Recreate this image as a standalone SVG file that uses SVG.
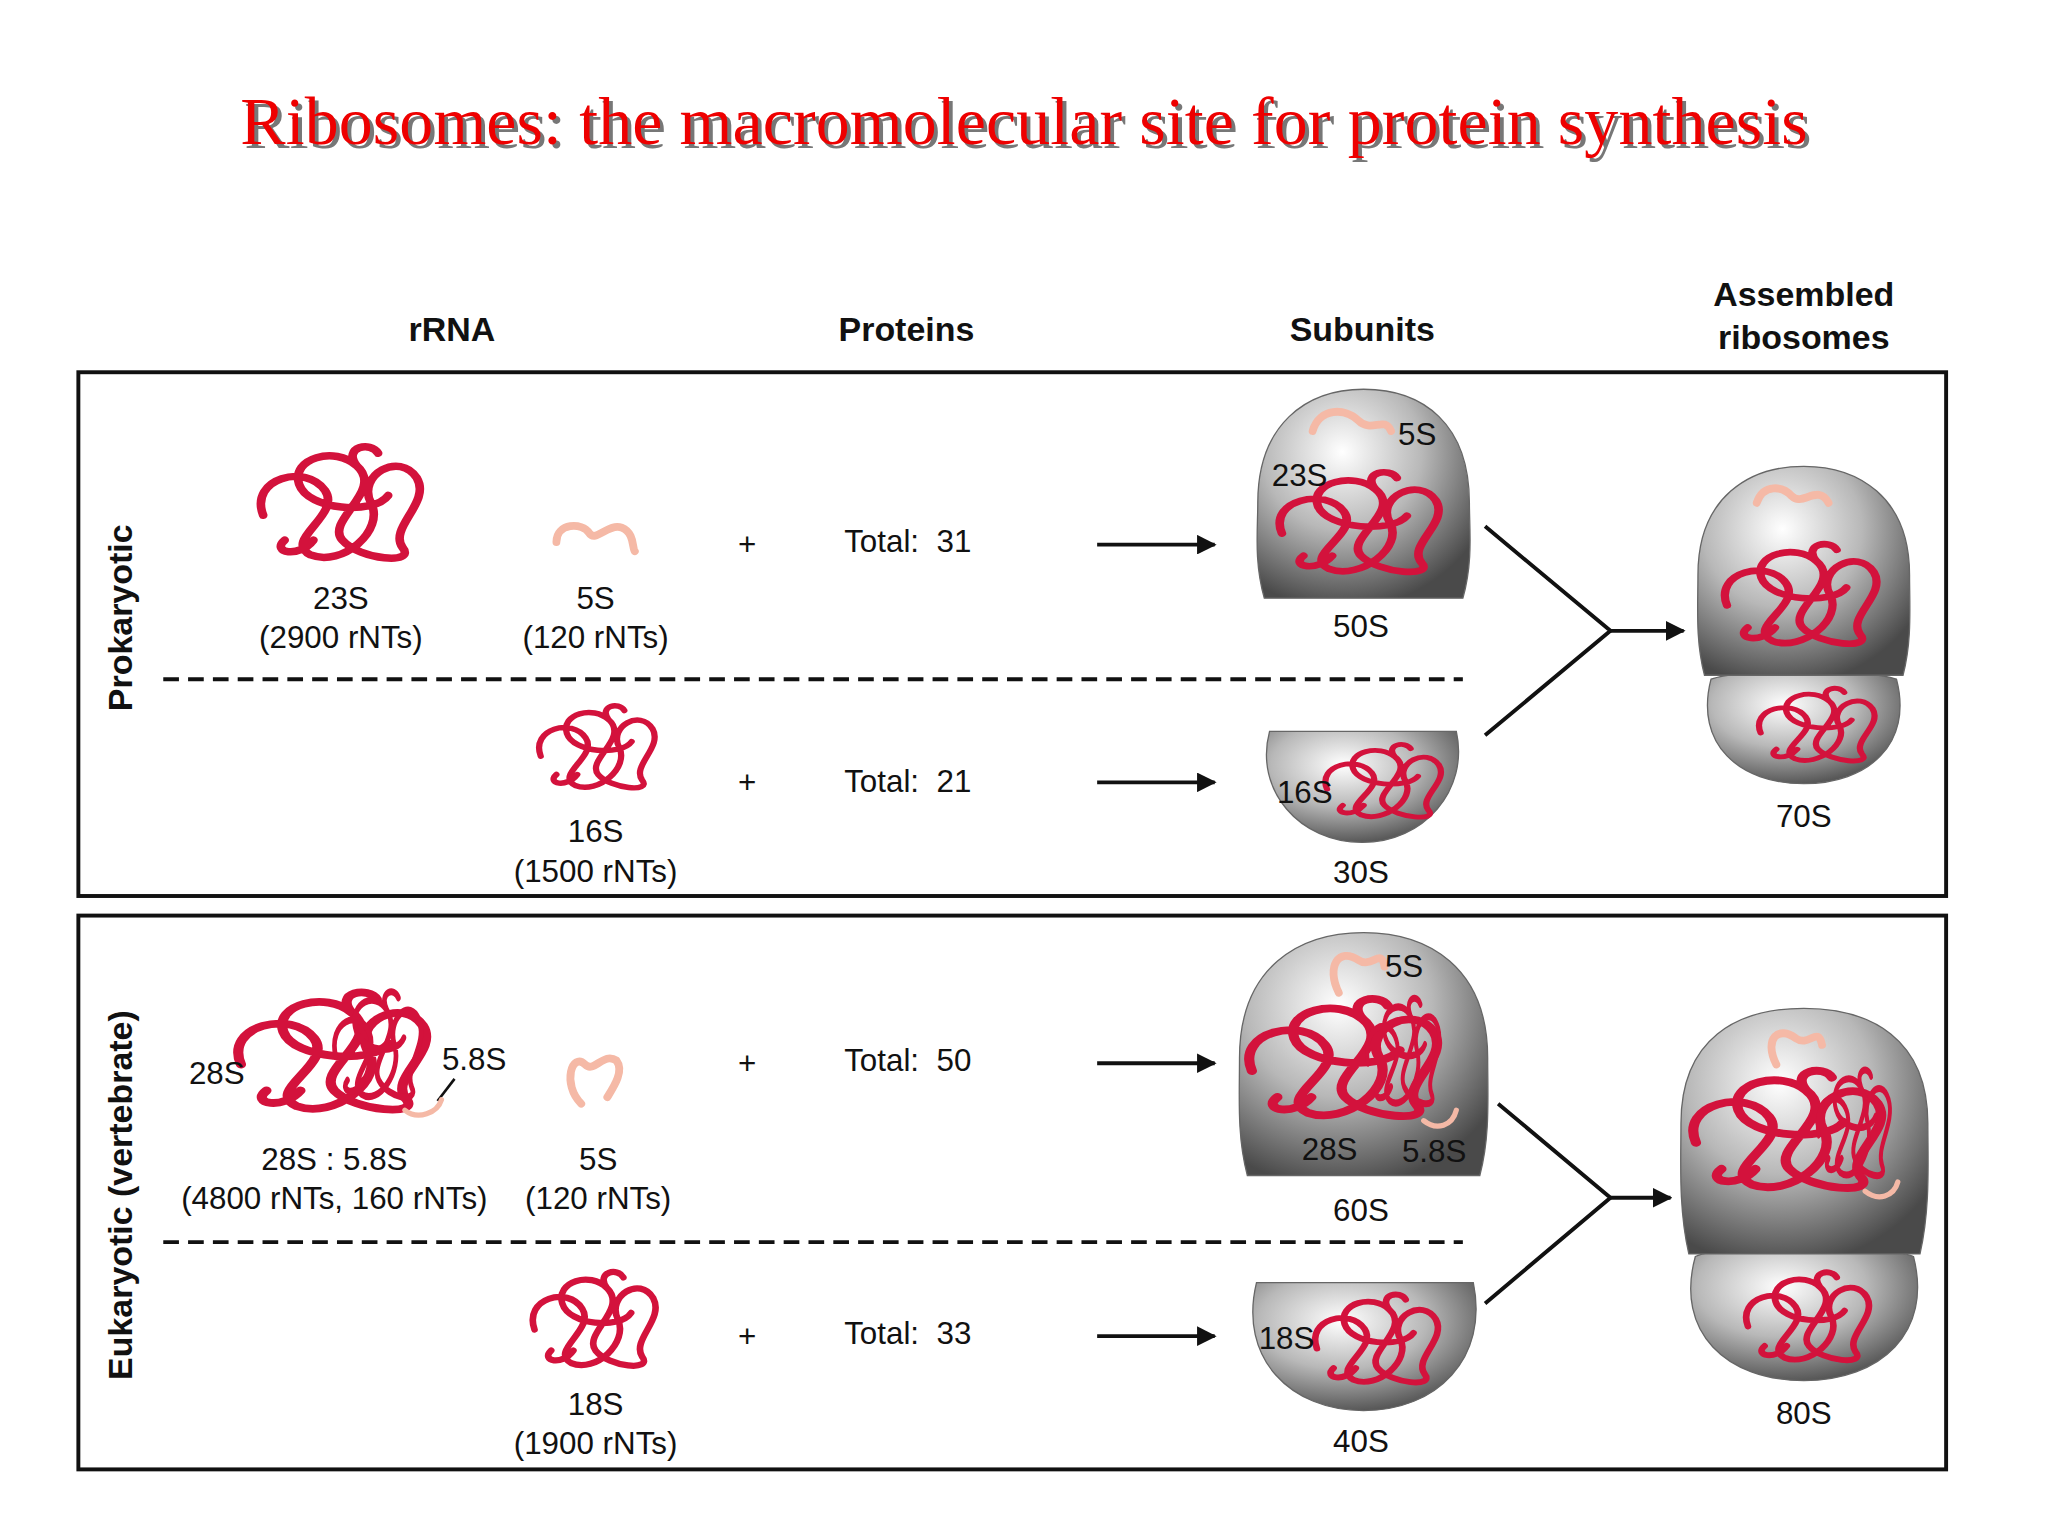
<svg xmlns="http://www.w3.org/2000/svg" width="2048" height="1536" viewBox="0 0 2048 1536">
<style>
.t{font-family:"Liberation Sans",Arial,sans-serif;font-size:24px;fill:#111;text-anchor:middle}
.h{font-family:"Liberation Sans",Arial,sans-serif;font-size:26px;font-weight:bold;fill:#111;text-anchor:middle}
.box{fill:none;stroke:#111;stroke-width:3}
.dash{stroke:#111;stroke-width:3;stroke-dasharray:12 7}
.ln{stroke:#111;stroke-width:3;fill:none}
.r{fill:none;stroke:#d3123c;stroke-width:6;stroke-linecap:round;stroke-linejoin:round}
.p{fill:none;stroke:#f5b9a6;stroke-width:6;stroke-linecap:round}
.dome{fill:url(#g);stroke:#666;stroke-width:1}
</style>
<defs>
<radialGradient id="g" cx="0.4" cy="0.3" r="0.75">
<stop offset="0" stop-color="#ffffff"/><stop offset="0.5" stop-color="#b8b8b8"/><stop offset="1" stop-color="#4a4a4a"/>
</radialGradient>
<marker id="a" viewBox="0 0 10 10" refX="9" refY="5" markerWidth="5" markerHeight="5" orient="auto"><path d="M0,0 L10,5 L0,10 Z" fill="#111"/></marker>
<path id="tg" d="M-55,10 C-65,-20 -25,-32 -12,-10 C0,10 -42,30 -22,42 C0,52 30,22 20,0 C10,-22 40,-42 52,-20 C62,0 32,20 42,36 C52,50 12,46 0,30 C-12,14 30,-10 10,-30 C-5,-46 -36,-36 -30,-15 C-24,6 22,10 32,-6 M-40,30 C-50,40 -30,45 -20,30 M10,-30 C0,-45 20,-50 25,-40"/>
<path id="sq" d="M-30,5 C-30,-10 -10,-10 -5,-2 C0,6 10,-10 20,-6 C30,-2 28,10 30,12"/>
</defs>
<rect width="2048" height="1536" fill="#fff"/>
<g transform="scale(1.30612)">
<g id="title" font-family="Liberation Serif,'Times New Roman',serif" font-size="52" text-anchor="middle" textLength="1200">
<text x="787" y="113" fill="#777" textLength="1200">Ribosomes: the macromolecular site for protein synthesis</text>
<text x="784" y="110" fill="#ee0000" textLength="1200">Ribosomes: the macromolecular site for protein synthesis</text>
</g>
<g id="headers">
<text class="h" x="346" y="261">rRNA</text>
<text class="h" x="694" y="261">Proteins</text>
<text class="h" x="1043" y="261">Subunits</text>
<text class="h" x="1381" y="234">Assembled</text>
<text class="h" x="1381" y="267">ribosomes</text>
</g>
<rect class="box" x="60" y="285" width="1430" height="401"/>
<rect class="box" x="60" y="701" width="1430" height="424"/>
<text class="h" transform="translate(101,473) rotate(-90)">Prokaryotic</text>
<text class="h" transform="translate(101,915) rotate(-90)">Eukaryotic (vertebrate)</text>
<g id="connectors">
<line class="dash" x1="125" y1="520" x2="1120" y2="520"/>
<line class="dash" x1="125" y1="951" x2="1120" y2="951"/>
<line class="ln" x1="840" y1="417" x2="930" y2="417" marker-end="url(#a)"/>
<line class="ln" x1="840" y1="599" x2="930" y2="599" marker-end="url(#a)"/>
<line class="ln" x1="840" y1="814" x2="930" y2="814" marker-end="url(#a)"/>
<line class="ln" x1="840" y1="1023" x2="930" y2="1023" marker-end="url(#a)"/>
<path class="ln" d="M1137,403 L1233,483 L1137,563"/>
<line class="ln" x1="1233" y1="483" x2="1289" y2="483" marker-end="url(#a)"/>
<path class="ln" d="M1147,845 L1233,917 L1137,998"/>
<line class="ln" x1="1233" y1="917" x2="1279" y2="917" marker-end="url(#a)"/>
<line class="ln" x1="335" y1="843" x2="348" y2="826" style="stroke-width:2"/>
</g>
<g id="rrna-23S"><use href="#tg" class="r" transform="translate(262,385) scale(1.1,0.95)"/>
<text class="t" x="261" y="466">23S</text><text class="t" x="261" y="496">(2900 rNTs)</text></g>
<g id="rrna-5S"><use href="#sq" class="p" transform="translate(456,410)"/>
<text class="t" x="456" y="466">5S</text><text class="t" x="456" y="496">(120 rNTs)</text></g>
<g id="rrna-16S"><use href="#tg" class="r" transform="translate(458,572) scale(0.8,0.7)"/>
<text class="t" x="456" y="645">16S</text><text class="t" x="456" y="675">(1500 rNTs)</text></g>
<g id="rrna-28S"><use href="#tg" class="r" transform="translate(256,805) scale(1.3,1)"/>
<use href="#tg" class="r" transform="translate(290,800) scale(0.6,0.9)"/>
<path class="p" d="M310,850 C320,858 335,852 338,842" style="stroke-width:4"/>
<text class="t" x="166" y="830">28S</text><text class="t" x="363" y="819">5.8S</text>
<text class="t" x="256" y="896">28S : 5.8S</text><text class="t" x="256" y="926">(4800 rNTs, 160 rNTs)</text></g>
<g id="rrna-5S-e"><path class="p" d="M445,845 C430,830 438,805 448,815 C455,822 462,805 472,812 C478,820 470,832 465,840"/>
<text class="t" x="458" y="896">5S</text><text class="t" x="458" y="926">(120 rNTs)</text></g>
<g id="rrna-18S"><use href="#tg" class="r" transform="translate(456,1010) scale(0.85,0.8)"/>
<text class="t" x="456" y="1083">18S</text><text class="t" x="456" y="1113">(1900 rNTs)</text></g>
<g id="plus"><text class="t" x="572" y="425" font-size="28">+</text><text class="t" x="572" y="607" font-size="28">+</text>
<text class="t" x="572" y="822" font-size="28">+</text><text class="t" x="572" y="1031" font-size="28">+</text></g>
<g id="totals"><text class="t" x="695" y="423" xml:space="preserve">Total:  31</text><text class="t" x="695" y="606" xml:space="preserve">Total:  21</text>
<text class="t" x="695" y="820" xml:space="preserve">Total:  50</text><text class="t" x="695" y="1029" xml:space="preserve">Total:  33</text></g>
<g id="s50"><path class="dome" d="M968,458 C960,430 963,405 963,385 C963,325 1000,298 1044,298 C1090,298 1125,325 1125,385 C1125,405 1128,430 1120,458 Z"/>
<path class="p" d="M1005,330 C1010,312 1030,312 1040,322 C1050,332 1060,318 1065,330"/>
<use href="#tg" class="r" transform="translate(1042,400) scale(1.1,0.85)"/>
<text class="t" x="1085" y="341">5S</text><text class="t" x="995" y="372">23S</text><text class="t" x="1042" y="488">50S</text></g>
<g id="s30"><path class="dome" d="M972,560 L1115,560 C1125,605 1090,645 1043,645 C995,645 960,605 972,560 Z"/>
<use href="#tg" class="r" transform="translate(1060,598) scale(0.8,0.62)"/>
<text class="t" x="999" y="615">16S</text><text class="t" x="1042" y="676">30S</text></g>
<g id="r70">
<path class="dome" d="M1310,520 C1330,512 1430,512 1452,520 C1465,570 1430,600 1381,600 C1332,600 1297,570 1310,520 Z"/>
<path class="dome" d="M1305,517 C1298,490 1300,465 1300,440 C1300,380 1340,357 1381,357 C1422,357 1462,380 1462,440 C1462,465 1464,490 1457,517 Z"/>
<path class="p" d="M1345,385 C1350,370 1365,372 1372,380 C1380,388 1392,370 1400,385"/>
<use href="#tg" class="r" transform="translate(1380,455) scale(1.05,0.85)"/>
<use href="#tg" class="r" transform="translate(1392,555) scale(0.8,0.62)"/>
<text class="t" x="1381" y="633">70S</text></g>
<g id="s60"><path class="dome" d="M955,900 C947,870 949,840 949,810 C949,740 995,714 1044,714 C1093,714 1139,740 1139,810 C1139,840 1141,870 1133,900 Z"/>
<path class="p" d="M1025,760 C1015,740 1025,725 1040,735 C1050,742 1058,725 1060,740"/>
<use href="#tg" class="r" transform="translate(1030,810) scale(1.3,1)"/>
<use href="#tg" class="r" transform="translate(1075,805) scale(0.5,0.9)"/>
<path class="p" d="M1090,858 C1100,866 1112,862 1115,850" style="stroke-width:4"/>
<text class="t" x="1075" y="748">5S</text><text class="t" x="1018" y="888">28S</text><text class="t" x="1098" y="890">5.8S</text><text class="t" x="1042" y="935">60S</text></g>
<g id="s40"><path class="dome" d="M962,982 L1128,982 C1140,1040 1100,1080 1044,1080 C988,1080 948,1040 962,982 Z"/>
<use href="#tg" class="r" transform="translate(1055,1025) scale(0.85,0.75)"/>
<text class="t" x="985" y="1033">18S</text><text class="t" x="1042" y="1112">40S</text></g>
<g id="r80"><path class="dome" d="M1298,962 C1320,952 1440,952 1465,962 C1480,1020 1440,1057 1381,1057 C1322,1057 1282,1020 1298,962 Z"/>
<path class="dome" d="M1293,960 C1285,925 1287,890 1287,860 C1287,795 1330,772 1381,772 C1432,772 1476,795 1476,860 C1476,890 1478,925 1470,960 Z"/>
<path class="p" d="M1360,815 C1350,795 1362,785 1375,795 C1385,802 1392,785 1395,800"/>
<use href="#tg" class="r" transform="translate(1370,865) scale(1.3,1)"/>
<use href="#tg" class="r" transform="translate(1420,860) scale(0.5,0.9)"/>
<path class="p" d="M1428,912 C1438,920 1450,916 1453,905" style="stroke-width:4"/>
<use href="#tg" class="r" transform="translate(1385,1008) scale(0.85,0.75)"/>
<text class="t" x="1381" y="1090">80S</text></g>
</g>
</svg>
